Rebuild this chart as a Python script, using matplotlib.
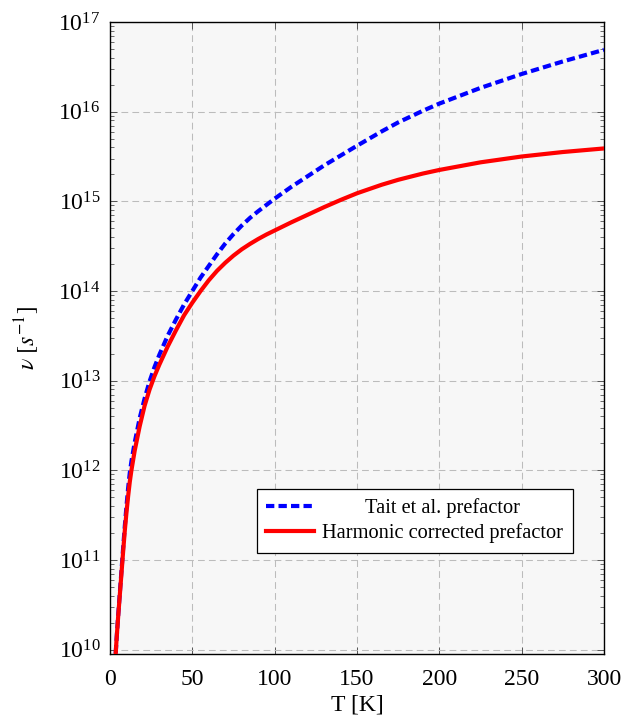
import numpy as np
import matplotlib
matplotlib.use('Agg')
import matplotlib.pyplot as plt
from matplotlib.ticker import LogLocator, NullFormatter

# Waarden (exponenten van 10)
T = [3, 4, 5, 6, 7, 8, 9, 10, 11, 12, 13, 15, 18, 21, 24, 27, 30, 35, 40,
     45, 50, 55, 60, 65, 70, 75, 80, 85, 90, 95, 100, 110, 120, 130, 140,
     150, 165, 175, 190, 200, 225, 250, 275, 300]
log_red = [9.82, 10.12, 10.38, 10.62, 10.86, 11.1, 11.33, 11.53, 11.71, 11.87,
           12.0, 12.22, 12.49, 12.72, 12.9, 13.05, 13.18, 13.38, 13.56,
           13.73, 13.87, 14.0, 14.12, 14.225, 14.315, 14.395, 14.465, 14.525,
           14.58, 14.63, 14.675, 14.765, 14.85, 14.935, 15.015,
           15.09, 15.185, 15.24, 15.31, 15.35, 15.435, 15.5, 15.55, 15.59]
log_blue = [9.82, 10.12, 10.39, 10.64, 10.89, 11.14, 11.38, 11.6, 11.8, 11.97,
            12.1, 12.31, 12.58, 12.8, 12.99, 13.15, 13.29, 13.5, 13.68,
            13.85, 14.0, 14.15, 14.28, 14.41, 14.53, 14.635, 14.73, 14.815,
            14.89, 14.96, 15.03, 15.16, 15.28, 15.4, 15.51,
            15.62, 15.78, 15.88, 16.01, 16.09, 16.265, 16.42, 16.56, 16.69]

labels = ['Tait et al. prefactor', 'Harmonic corrected prefactor']
x_ticks = [0, 50, 100, 150, 200, 250, 300]

plt.rcParams['font.family'] = ['Liberation Serif', 'DejaVu Serif']
plt.rcParams['mathtext.fontset'] = 'stix'

fig = plt.figure(figsize=(6.27, 7.18), dpi=100)
ax = fig.add_axes([110 / 627, 1 - 654 / 718, 494 / 627, 632 / 718])
ax.set_facecolor('#f7f7f7')

nu_blue = 10 ** np.array(log_blue)
nu_red = 10 ** np.array(log_red)

ax.plot(T, nu_blue, color='blue', lw=3, linestyle=(0, (2.0, 1.0)),
        label=labels[0], zorder=3)
ax.plot(T, nu_red, color='red', lw=3, label=labels[1], zorder=4)

ax.set_yscale('log')
ax.set_xlim(0, 300)
ax.set_ylim(10 ** 9.952, 1e17)
ax.set_xticks(x_ticks)
ax.yaxis.set_major_locator(LogLocator(base=10, numticks=20))
ax.yaxis.set_minor_locator(LogLocator(base=10, subs=np.arange(2, 10), numticks=20))
ax.yaxis.set_minor_formatter(NullFormatter())

ax.grid(True, which='major', color='#bcbcbc', linewidth=0.75,
        linestyle=(0, (6.5, 4)), zorder=1)
ax.tick_params(which='both', direction='in', top=True, right=True,
               color='#555555', labelsize=17)
ax.tick_params(which='major', length=5, width=0.7)
ax.tick_params(axis='y', which='major', pad=7)
ax.tick_params(axis='x', which='major', pad=11)
ax.tick_params(which='minor', length=3, width=0.6)
for s in ax.spines.values():
    s.set_linewidth(1.0)

ax.set_xlabel('T [K]', fontsize=17, labelpad=3)
ax.set_ylabel(r'$\nu\ [s^{-1}]$', fontsize=17, labelpad=12)

leg = ax.legend(loc='lower right', bbox_to_anchor=(0.937, 0.160),
                fontsize=14.7, frameon=True, fancybox=False, edgecolor='black',
                framealpha=1, borderaxespad=0, handlelength=2.35,
                labelspacing=0.25, borderpad=0.47, handletextpad=0.4)
leg.get_frame().set_linewidth(0.9)

# Eerste legendatekst centreren, zoals in pgfplots
fig.canvas.draw()
t0, t1 = leg.get_texts()
r = fig.canvas.get_renderer()
dx = (t1.get_window_extent(r).width - t0.get_window_extent(r).width) / 2
t0.set_x(dx)

fig.savefig('out.png', dpi=100)
